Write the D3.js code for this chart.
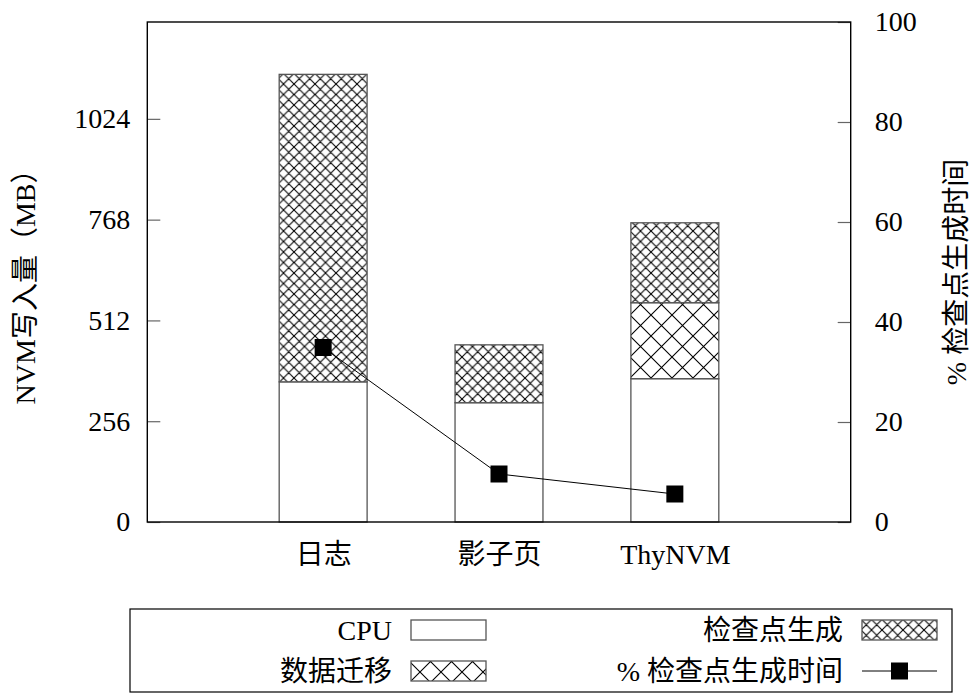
<!DOCTYPE html>
<html>
<head>
<meta charset="utf-8">
<script src="https://cdn.jsdelivr.net/npm/d3@7"></script>
<style>
  body { margin: 0; background: #fff; }
  svg text { font-family: "Liberation Serif", "Noto Sans CJK SC", serif; fill: #000; }
</style>
</head>
<body>
<div id="chart"></div>
<script>
// NVM writes per scheme (MB), stacked segments, plus checkpoint time share (%)
const categories = ["日志", "影子页", "ThyNVM"];
const cpuWrites = [356, 303, 364];
const migrationWrites = [0, 0, 193];
const checkpointWrites = [781, 147, 203];
const checkpointTimePct = [34.9, 9.6, 5.6];
const leftTicks = [0, 256, 512, 768, 1024];
const rightTicks = [0, 20, 40, 60, 80, 100];
const seriesKeys = ["cpu", "migration", "checkpoint"];
const seriesNames = { cpu: "CPU", migration: "数据迁移", checkpoint: "检查点生成" };
const lineName = "% 检查点生成时间";

const WD = 974, HT = 693;
const plot = { left: 147.3, right: 850.7, top: 22, bottom: 522 };

const svg = d3.select("#chart").append("svg")
    .attr("width", WD)
    .attr("height", HT);

// hatch patterns
const defs = svg.append("defs");
function hatch(id, s) {
  const p = defs.append("pattern")
      .attr("id", id)
      .attr("patternUnits", "userSpaceOnUse")
      .attr("width", s).attr("height", s);
  p.append("rect").attr("width", s).attr("height", s).attr("fill", "#fff");
  p.append("path")
      .attr("d", `M0,0L${s},${s}M0,${s}L${s},0M${-s/2},${s/2}L${s/2},${-s/2}M${s/2},${s*1.5}L${s*1.5},${s/2}M${-s/2},${s/2}L${s/2},${s*1.5}M${s/2},${-s/2}L${s*1.5},${s/2}`)
      .attr("stroke", "#000")
      .attr("stroke-width", 1.1)
      .attr("fill", "none");
}
hatch("hatchDense", 10.5);
hatch("hatchSparse", 21);
const fills = { cpu: "#fff", migration: "url(#hatchSparse)", checkpoint: "url(#hatchDense)" };

// table for the stack
const rows = categories.map((c, i) => ({
  name: c, cpu: cpuWrites[i], migration: migrationWrites[i], checkpoint: checkpointWrites[i]
}));
const stacked = d3.stack().keys(seriesKeys)(rows);

const x = d3.scalePoint().domain(categories).range([plot.left, plot.right]).padding(1);
const yl = d3.scaleLinear().domain([0, 1270]).range([plot.bottom, plot.top]);
const yr = d3.scaleLinear().domain([0, 100]).range([plot.bottom, plot.top]);
const barW = x.step() * 0.5;

// bars
stacked.forEach(layer => {
  svg.append("g").selectAll("rect")
    .data(layer.filter(d => d[1] - d[0] > 0))
    .enter().append("rect")
      .attr("x", d => x(d.data.name) - barW / 2)
      .attr("y", d => yl(d[1]))
      .attr("width", barW)
      .attr("height", d => yl(d[0]) - yl(d[1]))
      .attr("fill", fills[layer.key])
      .attr("stroke", "#555")
      .attr("stroke-width", 1.3);
});

// axes
const fs = 28;
const gl = svg.append("g")
    .attr("transform", `translate(${plot.left},0)`)
    .call(d3.axisLeft(yl).tickValues(leftTicks).tickFormat(d3.format("d")).tickSize(-13).tickPadding(17));
const gr = svg.append("g")
    .attr("transform", `translate(${plot.right},0)`)
    .call(d3.axisRight(yr).tickValues(rightTicks).tickFormat(d3.format("d")).tickSize(-13).tickPadding(24));
const gb = svg.append("g")
    .attr("transform", `translate(0,${plot.bottom})`)
    .call(d3.axisBottom(x).tickSize(0).tickPadding(22));
[gl, gr, gb].forEach(g => {
  g.select(".domain").remove();
  g.selectAll("line").attr("stroke", "#666").attr("stroke-width", 1.2);
  g.selectAll("text").style("font-size", fs + "px").style("font-family", null);
});

// frame
svg.append("rect")
    .attr("x", plot.left).attr("y", plot.top)
    .attr("width", plot.right - plot.left)
    .attr("height", plot.bottom - plot.top)
    .attr("fill", "none")
    .attr("stroke", "#000")
    .attr("stroke-width", 1.4);

// checkpoint time line
const line = d3.line().x((d, i) => x(categories[i])).y(d => yr(d));
svg.append("path")
    .datum(checkpointTimePct)
    .attr("d", line)
    .attr("fill", "none")
    .attr("stroke", "#000")
    .attr("stroke-width", 1);
const mk = 17;
svg.append("g").selectAll("rect")
    .data(checkpointTimePct)
    .enter().append("rect")
      .attr("x", (d, i) => x(categories[i]) - mk / 2)
      .attr("y", d => yr(d) - mk / 2)
      .attr("width", mk).attr("height", mk)
      .attr("fill", "#000");

// axis titles
svg.append("text")
    .attr("transform", `translate(35,${(plot.top + plot.bottom) / 2 + 8}) rotate(-90)`)
    .attr("text-anchor", "middle")
    .style("font-size", fs + "px")
    .text("NVM写入量（MB）");
svg.append("text")
    .attr("transform", `translate(966,${(plot.top + plot.bottom) / 2}) rotate(-90)`)
    .attr("text-anchor", "middle")
    .style("font-size", fs + "px")
    .text(lineName);

// legend
const lg = svg.append("g");
lg.append("rect")
    .attr("x", 130).attr("y", 609)
    .attr("width", 822).attr("height", 83)
    .attr("fill", "none")
    .attr("stroke", "#000")
    .attr("stroke-width", 1.2);

const legendItems = [
  { label: seriesNames.cpu, key: "cpu", tx: 392, cy: 630 },
  { label: seriesNames.checkpoint, key: "checkpoint", tx: 843, cy: 630 },
  { label: seriesNames.migration, key: "migration", tx: 392, cy: 671 },
  { label: lineName, key: "line", tx: 843, cy: 671 }
];
const symW = 75, symH = 20;
legendItems.forEach(it => {
  lg.append("text")
      .attr("x", it.tx).attr("y", it.cy + 10)
      .attr("text-anchor", "end")
      .style("font-size", fs + "px")
      .text(it.label);
  const sx = it.tx + 19;
  if (it.key === "line") {
    lg.append("line")
        .attr("x1", sx).attr("x2", sx + symW)
        .attr("y1", it.cy).attr("y2", it.cy)
        .attr("stroke", "#000").attr("stroke-width", 1);
    lg.append("rect")
        .attr("x", sx + symW / 2 - mk / 2).attr("y", it.cy - mk / 2)
        .attr("width", mk).attr("height", mk)
        .attr("fill", "#000");
  } else {
    lg.append("rect")
        .attr("x", sx).attr("y", it.cy - symH / 2)
        .attr("width", symW).attr("height", symH)
        .attr("fill", fills[it.key])
        .attr("stroke", "#555")
        .attr("stroke-width", 1.3);
  }
});
</script>
</body>
</html>
